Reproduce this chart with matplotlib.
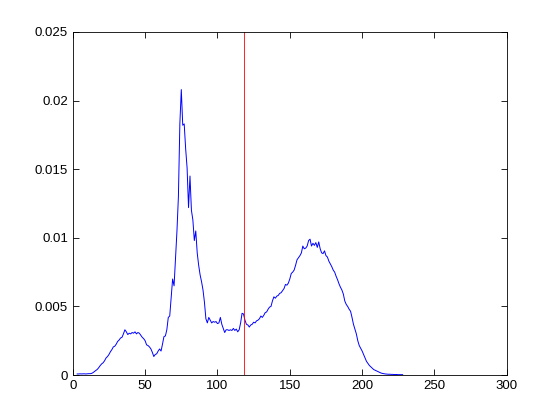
import numpy as np
from matplotlib import pyplot as plt
from matplotlib.ticker import FuncFormatter

# histograma (valores x 1e-4), bins 3..228
inicio = 3
valores = [
    0.8, 0.8, 0.9, 0.8, 0.9, 0.9, 0.8, 0.9, 1.0, 1.0,
    1.2, 1.8, 2.6, 3.3, 4.2, 5.5, 7.0, 8.2, 9.0, 10.5,
    12.5, 13.5, 15.0, 17.0, 18.5, 20.5, 21.0, 22.5, 24.5, 25.5,
    27.0, 27.5, 30.0, 33.0, 31.5, 29.5, 30.5, 30.0, 31.0, 30.5,
    31.5, 30.0, 31.0, 30.5, 29.0, 27.5, 26.5, 25.0, 22.0, 21.5,
    20.5, 19.0, 16.5, 13.5, 15.0, 15.5, 17.5, 19.0, 17.5, 22.5,
    28.0, 28.5, 33.0, 42.0, 43.0, 57.0, 70.0, 65.0, 85.0, 105.0,
    130, 183, 208, 182, 183, 165, 151, 122, 145, 120,
    113, 98, 105, 89, 80, 73, 68, 62, 53, 41,
    38, 42, 40, 38, 39, 38.5, 39, 37.5, 38, 42,
    37, 34, 31, 33, 33, 32.5, 33, 32.5, 34, 32.5,
    33.5, 31.5, 33, 38, 45, 44.5, 40, 37, 36.5, 35,
    36.5, 37, 38.5, 38, 39.5, 40, 41, 43, 42, 43.5,
    45.5, 46, 48, 49.5, 50, 54, 57, 56, 57.5, 58,
    59.5, 60, 61.5, 63, 66, 65.5, 67, 70, 74, 75,
    76.5, 80, 84, 85.5, 87, 89, 94, 92, 92.5, 94,
    98, 99, 94, 96, 94.5, 96.5, 93, 97, 92, 89,
    88.5, 90.5, 87, 86, 83, 81, 79, 76.5, 75, 72,
    69.5, 66.5, 64, 62, 59, 54, 51.5, 50, 48, 46.5,
    42, 37, 33.5, 30, 25, 21.5, 19.5, 17.5, 15, 12.5,
    10, 8.5, 7, 6, 5, 4, 3.5, 3, 2.5, 2,
    1.5, 1.2, 1.0, 0.8, 0.7, 0.6, 0.6, 0.5, 0.5, 0.4,
    0.4, 0.4, 0.3, 0.3, 0.3, 0.3,
]
umbral = 118

x = np.arange(inicio, inicio + len(valores))
h = np.array(valores) * 1e-4

plt.rcParams['font.family'] = ['Liberation Sans', 'DejaVu Sans']

fig = plt.figure(figsize=(5.6, 4.2), dpi=100)
ax = fig.add_axes([0.13, 0.107, 0.775, 0.817])

ax.plot(x, h, color='b', linewidth=0.7)
ax.plot([umbral, umbral], [0, 0.025], color='r', linewidth=0.6)

ax.set_xlim(0, 300)
ax.set_ylim(0, 0.025)
ax.set_xticks(np.arange(0, 301, 50))
ax.set_yticks(np.arange(0, 0.0251, 0.005))
ax.yaxis.set_major_formatter(FuncFormatter(lambda v, p: '%g' % round(v, 4)))
ax.tick_params(direction='in', top=True, right=True, labelsize=9.5, length=4, width=0.6)
for s in ax.spines.values():
    s.set_linewidth(0.6)

fig.savefig('out.png', dpi=100)
